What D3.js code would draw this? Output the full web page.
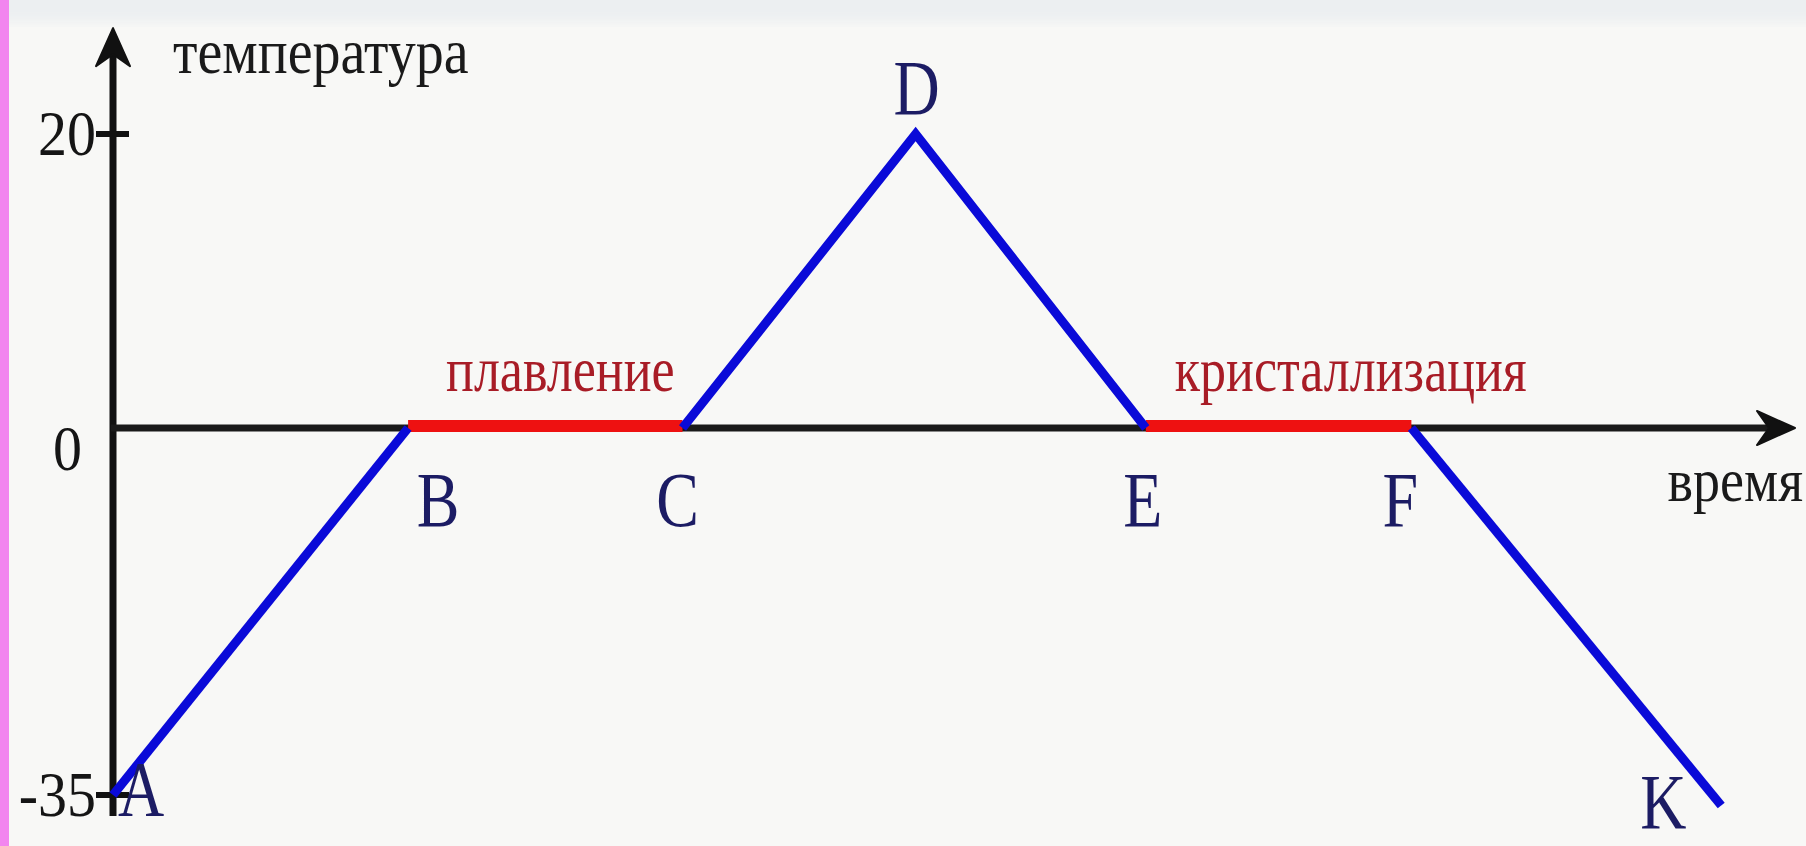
<!DOCTYPE html>
<html>
<head>
<meta charset="utf-8">
<script src="https://cdn.jsdelivr.net/npm/d3@7"></script>
<style>
  html, body { margin: 0; padding: 0; background: #f8f8f6; }
  svg { display: block; }
  text { font-family: "Liberation Serif", "Times New Roman", serif; }
</style>
</head>
<body>
<svg id="chart" width="1806" height="846"></svg>
<script>
// Heating / cooling curve of a substance: temperature against time
const pointNames = ["A", "B", "C", "D", "E", "F", "K"];
const pointTimes = [0, 10, 19.3, 27.2, 35, 44, 54.5];
const pointTemps = [-35, 0, 0, 20, 0, 0, -36];

// stretches of constant temperature (indices into the point arrays)
const phaseNames = ["плавление", "кристаллизация"];
const phaseStart = [1, 4];
const phaseEnd = [2, 5];

// sloped stretches of the curve
const rampPaths = [[0, 1], [2, 3, 4], [5, 6]];

const tickValues = [20, 0, -35];
const tickLabels = ["20", "0", "-35"];

const axisTitleY = "температура";
const axisTitleX = "время";

const W = 1806, H = 846;
const svg = d3.select("#chart");

// time axis runs a little past the last point; the arrow tip sits at its end
const timeMax = 57;
const x = d3.scaleLinear().domain([0, timeMax]).range([113, 1795]);
// schematic temperature axis: separate spacing below and above zero
const y = d3.scaleLinear().domain([-35, 0, 20]).range([795, 428, 134]);
const tempTop = 27.2, tempBottom = -37;

// page edge decoration
const defs = svg.append("defs");
defs.append("filter").attr("id", "haze").append("feGaussianBlur").attr("stdDeviation", 6);
svg.append("rect").attr("x", 0).attr("y", 0).attr("width", W).attr("height", H).attr("fill", "#f8f8f6");
svg.append("rect").attr("x", -20).attr("y", -20).attr("width", W + 40).attr("height", 42)
  .attr("fill", "#eceff1").attr("filter", "url(#haze)");
svg.append("rect").attr("x", 0).attr("y", 0).attr("width", 9).attr("height", H).attr("fill", "#f285ef");

const black = "#111111";
const axisW = 7;

// text placed at (px, py) and stretched vertically about its baseline
function tall(sel, px, py, sy) {
  return sel.attr("x", 0).attr("y", 0)
    .attr("transform", (d, i) => `translate(${px(d, i)},${py(d, i)}) scale(1,${sy})`);
}

// axes
const x0 = x(0), y0 = y(0);
svg.append("line")
  .attr("x1", x0).attr("y1", y(tempBottom)).attr("x2", x0).attr("y2", y(tempTop) + 20)
  .attr("stroke", black).attr("stroke-width", axisW);
svg.append("line")
  .attr("x1", x0 - 2).attr("y1", y0).attr("x2", x(timeMax) - 20).attr("y2", y0)
  .attr("stroke", "#1a1a1a").attr("stroke-width", axisW);

// arrow heads
function arrowHead(tipX, tipY, angle) {
  const len = 38, half = 17, notch = 12;
  const pts = [[0, 0], [-len, -half], [-len + notch, 0], [-len, half]];
  const c = Math.cos(angle), s = Math.sin(angle);
  const p = pts.map(([u, v]) => [tipX + u * c - v * s, tipY + u * s + v * c]);
  svg.append("path").attr("d", "M" + p.map(q => q.join(",")).join("L") + "Z")
    .attr("fill", black).attr("stroke", black).attr("stroke-width", 2).attr("stroke-linejoin", "round");
}
arrowHead(x(timeMax), y0, 0);
arrowHead(x0, y(tempTop), -Math.PI / 2);

// tick marks crossing the temperature axis
svg.selectAll("line.tick").data(tickValues.filter(v => v !== 0)).join("line")
  .attr("class", "tick")
  .attr("x1", x0 - 17).attr("x2", x0 + 16)
  .attr("y1", d => y(d)).attr("y2", d => y(d))
  .attr("stroke", black).attr("stroke-width", 6);

tall(svg.selectAll("text.ticklabel").data(tickValues).join("text")
  .attr("class", "ticklabel")
  .attr("text-anchor", "end")
  .attr("font-size", 58)
  .attr("fill", "#151515")
  .text((d, i) => tickLabels[i]),
  d => d === 0 ? x0 - 31 : x0 - 17,
  d => d === 0 ? y(d) + 42 : y(d) + 21,
  1.1);

// axis titles
tall(svg.append("text").attr("font-size", 56).attr("fill", "#1a1a1a").text(axisTitleY),
  () => x0 + 60, () => 73, 1.15);
tall(svg.append("text").attr("text-anchor", "end")
  .attr("font-size", 54).attr("fill", "#1a1a1a").text(axisTitleX),
  () => 1803, () => 501, 1.15);

const pts = pointNames.map((n, i) => ({ name: n, t: pointTimes[i], v: pointTemps[i] }));
const line = d3.line().x(d => x(d.t)).y(d => y(d.v));

// phase-change plateaus
const phases = phaseNames.map((n, i) => ({ name: n, a: pts[phaseStart[i]], b: pts[phaseEnd[i]] }));
svg.selectAll("path.phase").data(phases).join("path")
  .attr("class", "phase")
  .attr("d", d => line([d.a, d.b]))
  .attr("transform", "translate(0,-2)")
  .attr("fill", "none").attr("stroke", "#ee1111").attr("stroke-width", 12);

// heating and cooling ramps
svg.selectAll("path.ramp").data(rampPaths).join("path")
  .attr("class", "ramp")
  .attr("d", d => line(d.map(i => pts[i])))
  .attr("fill", "none").attr("stroke", "#0a0ad8").attr("stroke-width", 9)
  .attr("stroke-linejoin", "miter").attr("stroke-linecap", "butt");

const phaseLabelShift = [38, 29];
tall(svg.selectAll("text.phaselabel").data(phases).join("text")
  .attr("class", "phaselabel")
  .attr("font-size", 52).attr("fill", "#a81c26")
  .text(d => d.name),
  (d, i) => x(d.a.t) + phaseLabelShift[i],
  () => y0 - 37,
  1.22);

// point letters
const letterOffset = {
  A: [28, 20], B: [30, 98], C: [-5, 98], D: [1, -20], E: [-3, 98], F: [-11, 98], K: [-58, 23]
};
tall(svg.selectAll("text.pt").data(pts).join("text")
  .attr("class", "pt")
  .attr("text-anchor", "middle")
  .attr("font-size", 64).attr("fill", "#1c1c64")
  .text(d => d.name),
  d => x(d.t) + letterOffset[d.name][0],
  d => y(d.v) + letterOffset[d.name][1],
  1.22);
</script>
</body>
</html>
